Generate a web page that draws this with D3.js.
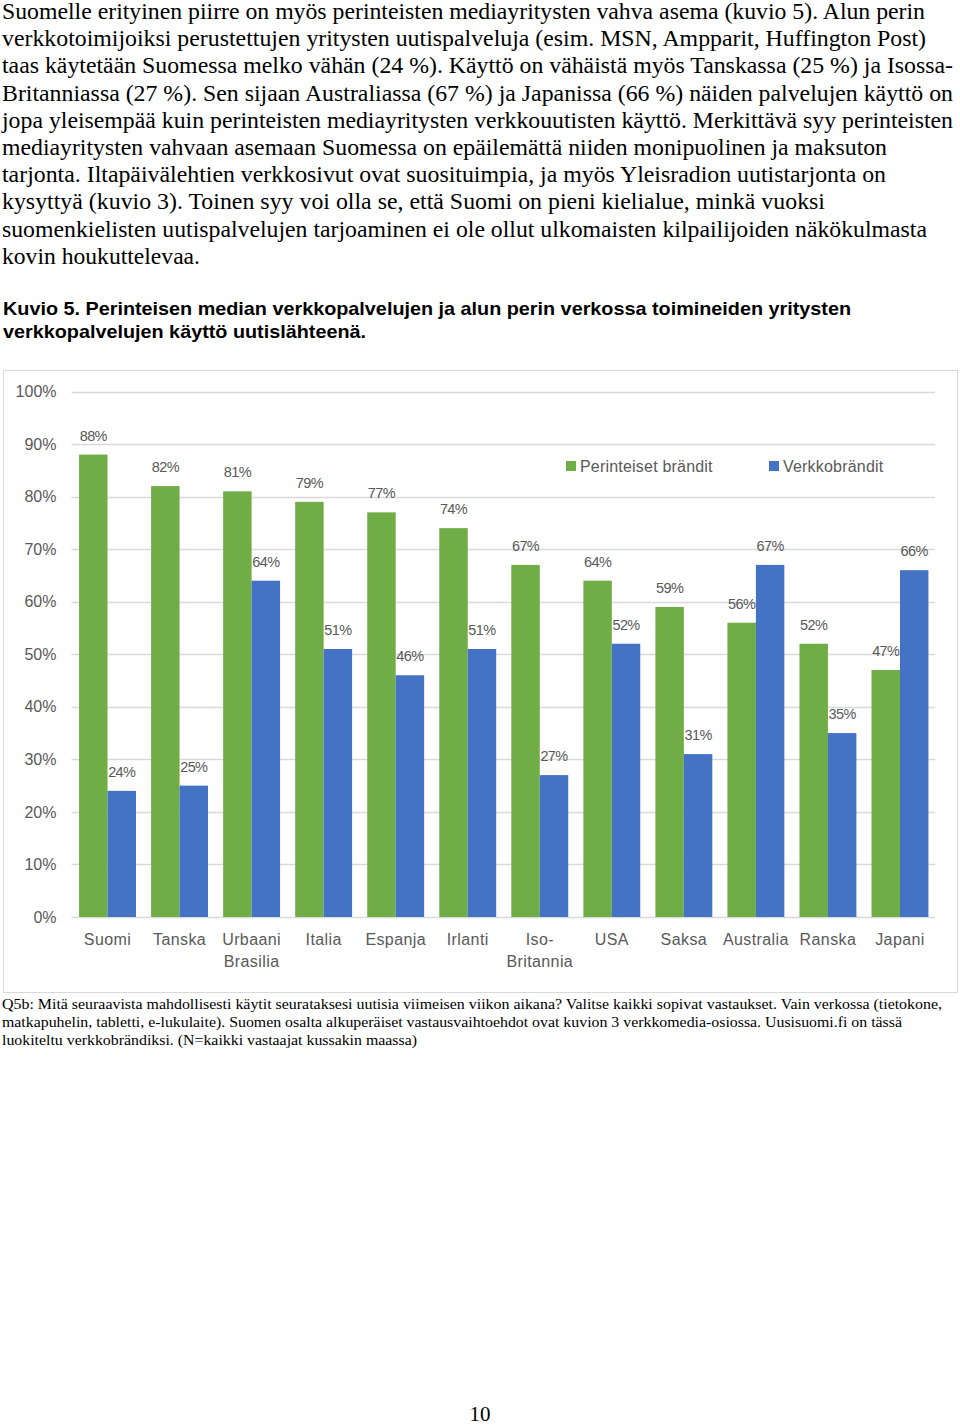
<!DOCTYPE html>
<html><head><meta charset="utf-8">
<script src="https://cdn.jsdelivr.net/npm/d3@7"></script>
<style>
html,body{margin:0;padding:0;background:#fff;}
svg{display:block;}
</style></head>
<body>
<svg id="page" width="960" height="1425"></svg>
<script>
// ---- DATA ----
const categories = ["Suomi","Tanska","Urbaani\nBrasilia","Italia","Espanja","Irlanti","Iso-\nBritannia","USA","Saksa","Australia","Ranska","Japani"];
const perinteiset = [88,82,81,79,77,74,67,64,59,56,52,47];
const verkko = [24,25,64,51,46,51,27,52,31,67,35,66];
const seriesNames = ["Perinteiset brändit","Verkkobrändit"];
const yTicks = [0,10,20,30,40,50,60,70,80,90,100];

const bodyLines = [
 "Suomelle erityinen piirre on myös perinteisten mediayritysten vahva asema (kuvio 5). Alun perin",
 "verkkotoimijoiksi perustettujen yritysten uutispalveluja (esim. MSN, Ampparit, Huffington Post)",
 "taas käytetään Suomessa melko vähän (24 %). Käyttö on vähäistä myös Tanskassa (25 %) ja Isossa-",
 "Britanniassa (27 %). Sen sijaan Australiassa (67 %) ja Japanissa (66 %) näiden palvelujen käyttö on",
 "jopa yleisempää kuin perinteisten mediayritysten verkkouutisten käyttö. Merkittävä syy perinteisten",
 "mediayritysten vahvaan asemaan Suomessa on epäilemättä niiden monipuolinen ja maksuton",
 "tarjonta. Iltapäivälehtien verkkosivut ovat suosituimpia, ja myös Yleisradion uutistarjonta on",
 "kysyttyä (kuvio 3). Toinen syy voi olla se, että Suomi on pieni kielialue, minkä vuoksi",
 "suomenkielisten uutispalvelujen tarjoaminen ei ole ollut ulkomaisten kilpailijoiden näkökulmasta",
 "kovin houkuttelevaa."
];
const bodyEnds = [925,926,953,953,953,887,886,825,927,200];
const captionLines = ["Kuvio 5. Perinteisen median verkkopalvelujen ja alun perin verkossa toimineiden yritysten",
 "verkkopalvelujen käyttö uutislähteenä."];
const captionEnds = [851,366];
const noteLines = [
 "Q5b: Mitä seuraavista mahdollisesti käytit seurataksesi uutisia viimeisen viikon aikana? Valitse kaikki sopivat vastaukset. Vain verkossa (tietokone,",
 "matkapuhelin, tabletti, e-lukulaite). Suomen osalta alkuperäiset vastausvaihtoehdot ovat kuvion 3 verkkomedia-osiossa. Uusisuomi.fi on tässä",
 "luokiteltu verkkobrändiksi. (N=kaikki vastaajat kussakin maassa)"
];
const noteEnds = [942,902,417];

// ---- PAGE TEXT ----
const svg = d3.select("#page");
const serif = "'Liberation Serif','Times New Roman',serif";
const sans = "'Liberation Sans',Arial,Helvetica,sans-serif";

svg.append("g").selectAll("text").data(bodyLines).join("text")
  .attr("x",2).attr("y",(d,i)=>19+i*27.2)
  .attr("textLength",(d,i)=>bodyEnds[i]-2).attr("lengthAdjust","spacingAndGlyphs")
  .style("font-family",serif).style("font-size","23px").attr("fill","#000")
  .text(d=>d);

svg.append("g").selectAll("text").data(captionLines).join("text")
  .attr("x",3).attr("y",(d,i)=>315+i*23)
  .attr("textLength",(d,i)=>captionEnds[i]-3).attr("lengthAdjust","spacingAndGlyphs")
  .style("font-family",sans).style("font-size","19px").style("font-weight","bold").attr("fill","#000")
  .text(d=>d);

svg.append("g").selectAll("text").data(noteLines).join("text")
  .attr("x",2).attr("y",(d,i)=>1009+i*18.2)
  .attr("textLength",(d,i)=>noteEnds[i]-2).attr("lengthAdjust","spacingAndGlyphs")
  .style("font-family",serif).style("font-size","14px").attr("fill","#000")
  .text(d=>d);

svg.append("text").attr("x",480).attr("y",1421).attr("text-anchor","middle")
  .style("font-family",serif).style("font-size","21px").text("10");

// ---- CHART ----
svg.append("rect").attr("x",3.5).attr("y",370.5).attr("width",954).attr("height",622)
  .attr("fill","#fff").attr("stroke","#d9d9d9").attr("stroke-width",1);

const plotL = 71.5, plotR = 936;
const y = d3.scaleLinear().domain([0,100]).range([917,391.5]);
const x0 = d3.scaleBand().domain(categories).range([plotL,plotR]).paddingInner(0.21).paddingOuter(0.105);
const x1 = d3.scaleBand().domain(seriesNames).range([0,x0.bandwidth()]);
const colors = d3.scaleOrdinal().domain(seriesNames).range(["#70ad47","#4472c4"]);
const grey = "#595959";

const chart = svg.append("g");
// gridlines
chart.append("g").selectAll("line").data(yTicks).join("line")
  .attr("x1",plotL).attr("x2",plotR-1)
  .attr("y1",d=>Math.round(y(d))+0.5).attr("y2",d=>Math.round(y(d))+0.5)
  .attr("stroke","#d9d9d9").attr("stroke-width",1.3);

// y axis labels via d3 axis
const yAxis = chart.append("g").attr("transform",`translate(${plotL-15},0)`)
  .call(d3.axisLeft(y).tickValues(yTicks).tickFormat(d=>d+"%").tickSize(0).tickPadding(0));
yAxis.select(".domain").remove();
yAxis.selectAll("text").style("font-family",sans).style("font-size","16px").attr("fill",grey);

// legend
const legX = [566,769];
const leg = chart.append("g").selectAll("g").data(seriesNames).join("g")
  .attr("transform",(d,i)=>`translate(${legX[i]},461)`);
leg.append("rect").attr("width",10).attr("height",10).attr("fill",d=>colors(d));
leg.append("text").attr("x",14).attr("y",10.5)
  .style("font-family",sans).style("font-size","16px").style("letter-spacing","0.2px").attr("fill",grey)
  .text(d=>d);

// bars
const rows = categories.map((c,i)=>({c, vals:[{s:seriesNames[0],v:perinteiset[i]},{s:seriesNames[1],v:verkko[i]}]}));
const groups = chart.append("g").selectAll("g").data(rows).join("g")
  .attr("transform",d=>`translate(${x0(d.c)},0)`);
groups.selectAll("rect").data(d=>d.vals).join("rect")
  .attr("x",d=>x1(d.s)).attr("width",x1.bandwidth())
  .attr("y",d=>y(d.v)).attr("height",d=>y(0)-y(d.v))
  .attr("fill",d=>colors(d.s));
groups.selectAll("text").data(d=>d.vals).join("text")
  .attr("x",d=>x1(d.s)+x1.bandwidth()/2).attr("y",d=>y(d.v)-14)
  .attr("text-anchor","middle")
  .style("font-family",sans).style("font-size","14.5px").style("letter-spacing","-0.6px").attr("fill",grey)
  .text(d=>d.v+"%");

// category labels
const xAxis = chart.append("g").attr("transform",`translate(0,${y(0)})`)
  .call(d3.axisBottom(x0).tickSize(0).tickPadding(0).tickFormat(""));
xAxis.select(".domain").remove();
xAxis.selectAll(".tick").each(function(d){
  const t = d3.select(this).append("text").attr("text-anchor","middle")
    .style("font-family",sans).style("font-size","16px").style("letter-spacing","0.4px").attr("fill",grey);
  d.split("\n").forEach((ln,j)=>t.append("tspan").attr("x",0).attr("y",28+j*22).text(ln));
});
</script>
</body></html>
